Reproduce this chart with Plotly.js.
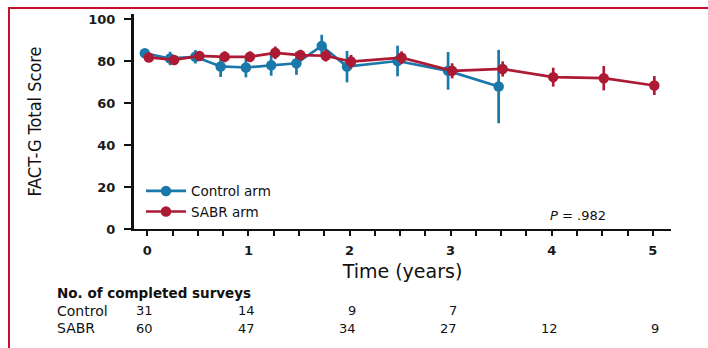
<!DOCTYPE html>
<html>
<head>
<meta charset="utf-8">
<script src="https://cdn.plot.ly/plotly-3.0.1.min.js"></script>
<style>
  html, body { margin: 0; padding: 0; background: #fff; }
  #wrap { position: relative; width: 708px; height: 348px; overflow: hidden; }
  #chart { width: 708px; height: 348px; }
  #frame {
    position: absolute; left: 8px; top: 7px; right: -4px; bottom: -4px;
    border-top: 2px solid #c8102e; border-left: 2px solid #c8102e;
    pointer-events: none;
  }
</style>
</head>
<body>
<div id="wrap">
  <div id="chart"></div>
  <div id="frame"></div>
</div>
<script>
// FACT-G total score over time, by arm (mean with error bars)
const timeControl  = [0, 0.25, 0.5, 0.75, 1, 1.25, 1.5, 1.75, 2, 2.5, 3, 3.5];
const scoreControl = [83.8, 81.3, 82.1, 77.5, 77.0, 78.1, 79.0, 87.3, 77.4, 80.1, 75.4, 67.9];
const errControl   = [2.0, 3.2, 3.2, 5.0, 4.7, 5.0, 5.5, 5.3, 7.5, 7.3, 9.0, 17.5];

const timeSABR  = [0, 0.25, 0.5, 0.75, 1, 1.25, 1.5, 1.75, 2, 2.5, 3, 3.5, 4, 4.5, 5];
const scoreSABR = [81.8, 80.6, 82.5, 82.1, 82.1, 84.0, 82.9, 82.6, 79.8, 81.7, 75.4, 76.3, 72.4, 71.9, 68.4];
const errSABR   = [2.0, 2.3, 2.4, 2.6, 2.6, 3.0, 2.5, 2.8, 3.2, 3.0, 3.6, 3.6, 4.5, 5.8, 4.5];

// Number of completed surveys at each yearly mark
const surveyYears     = [0, 1, 2, 3, 4, 5];
const surveysControl  = [31, 14, 9, 7, null, null];
const surveysSABR     = [60, 47, 34, 27, 12, 9];
const rowLabels       = ['Control', 'SABR'];

const xTickVals = [0, 1, 2, 3, 4, 5];
const yTickVals = [0, 20, 40, 60, 80, 100];

const blue = '#1a78aa';
const red  = '#ad1a34';
const FONT = 'DejaVu Sans, Verdana, sans-serif';

// small horizontal dodge so the two arms don't sit on top of each other
const dodgeControl = -0.025;
const dodgeSABR = 0.015;

function arm(name, t, y, e, color, dodge) {
  return {
    type: 'scatter', mode: 'lines+markers', name: name,
    x: t.map(v => v + dodge), y: y,
    line: { color: color, width: 2.7 },
    marker: { color: color, size: 10.5, symbol: 'circle' },
    error_y: { type: 'data', array: e, visible: true, color: color, thickness: 2.7, width: 0 },
    cliponaxis: false
  };
}

const traces = [
  arm('Control arm', timeControl, scoreControl, errControl, blue, dodgeControl),
  arm('SABR arm', timeSABR, scoreSABR, errSABR, red, dodgeSABR)
];

const annotations = [];
annotations.push({
  text: '<i>P</i> = .982', xref: 'x', yref: 'y', x: 4.26, y: 6.4,
  showarrow: false, xanchor: 'center', yanchor: 'middle',
  font: { family: FONT, size: 13, color: '#111' }
});
annotations.push({
  text: '<b>No. of completed surveys</b>', xref: 'paper', yref: 'paper',
  x: -0.148, y: -0.296, xanchor: 'left', yanchor: 'middle', showarrow: false,
  font: { family: FONT, size: 13.5, color: '#111' }
});
const rows = [surveysControl, surveysSABR];
const rowY = [-0.38, -0.462];
rows.forEach((vals, r) => {
  annotations.push({
    text: rowLabels[r], xref: 'paper', yref: 'paper', x: -0.148, y: rowY[r],
    xanchor: 'left', yanchor: 'middle', showarrow: false,
    font: { family: FONT, size: 14, color: '#111' }
  });
  vals.forEach((v, i) => {
    if (v === null) return;
    annotations.push({
      text: String(v), xref: 'x', yref: 'paper', x: surveyYears[i] + 0.08, y: rowY[r],
      xanchor: 'right', yanchor: 'middle', showarrow: false,
      font: { family: FONT, size: 13, color: '#111' }
    });
  });
});

const layout = {
  width: 708, height: 348,
  margin: { l: 134, r: 37, t: 14, b: 119, pad: 0 },
  paper_bgcolor: '#fff', plot_bgcolor: '#fff',
  showlegend: true,
  legend: {
    x: 0.013, y: 0.248, xanchor: 'left', yanchor: 'top',
    bgcolor: 'rgba(0,0,0,0)', borderwidth: 0, tracegroupgap: 0,
    font: { family: FONT, size: 13.5, color: '#111' },
    itemwidth: 40
  },
  xaxis: {
    range: [-0.132, 5.18], tickvals: xTickVals, ticktext: xTickVals.map(String),
    showgrid: false, zeroline: false,
    showline: true, linecolor: '#111', linewidth: 2,
    ticks: 'outside', ticklen: 5, tickwidth: 2, tickcolor: '#111',
    minor: { dtick: 0.25, tick0: 0, ticks: 'outside', ticklen: 5, tickwidth: 2, tickcolor: '#111', showgrid: false },
    tickfont: { family: FONT, size: 13, color: '#1a1a1a', weight: 'bold' },
    ticklabelstandoff: 3,
    title: { text: 'Time (years)', font: { family: FONT, size: 19, color: '#111' }, standoff: 8 }
  },
  yaxis: {
    range: [0, 102.5], tickvals: yTickVals, ticktext: yTickVals.map(String),
    showgrid: false, zeroline: false, automargin: true,
    showline: true, linecolor: '#111', linewidth: 3,
    ticks: 'outside', ticklen: 7, tickwidth: 2, tickcolor: '#111',
    tickfont: { family: FONT, size: 13, color: '#1a1a1a', weight: 'bold' },
    ticklabelstandoff: 6,
    title: { text: 'FACT-G Total Score', standoff: 42,
             font: { family: '"Liberation Sans Narrow", "DejaVu Sans Condensed", "Roboto Condensed", sans-serif', size: 18, color: '#111' } }
  },
  annotations: annotations
};

Plotly.newPlot('chart', traces, layout, { displayModeBar: false, staticPlot: true });
</script>
</body>
</html>
